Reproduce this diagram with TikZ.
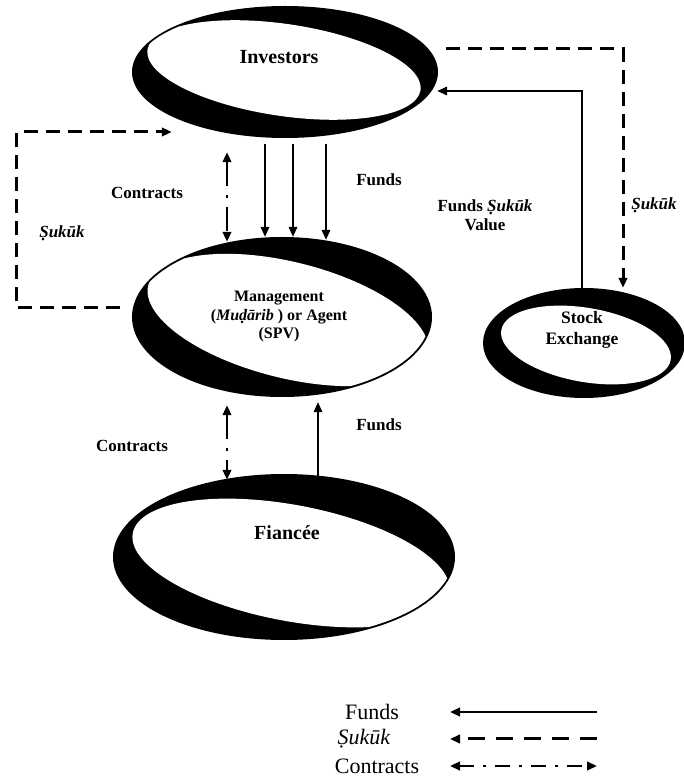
\documentclass[tikz,border=0pt]{standalone}
\usepackage{fontspec}
\setmainfont{Liberation Serif}
\usetikzlibrary{shapes.geometric,arrows.meta}

\tikzset{
  oval/.style={ellipse, inner sep=0pt, draw=none},
  lbl/.style={font=\bfseries\fontsize{17}{20}\selectfont, inner sep=0pt, align=center},
  bigname/.style={font=\bfseries\fontsize{20}{23}\selectfont, inner sep=0pt, align=center},
  legtext/.style={font=\fontsize{22}{24}\selectfont, inner sep=0pt},
  head/.tip={Triangle[length=10pt,width=8.5pt]},
  tip/.style={-head},
  fund/.style={tip, line width=2pt},
  sukuk/.style={tip, line width=3pt, dash pattern=on 14pt off 8pt},
  contract/.style={head-head, line width=2.4pt,
                   dash pattern=on 24pt off 9pt on 3pt off 9pt},
  legsukuk/.style={tip, line width=3pt, dash pattern=on 17pt off 11pt},
  legcontract/.style={head-head, line width=2.6pt,
                   dash pattern=on 15pt off 9pt on 3pt off 9pt},
}

\begin{document}
\begin{tikzpicture}[x=1pt,y=1pt]
\useasboundingbox (0,0) rectangle (684,780);

% ---- ellipse outlines (used as connector anchors) ----
\node[oval, minimum width=306pt, minimum height=132pt] (inv)  at (285,708) {};
\node[oval, minimum width=300pt, minimum height=160pt] (mgmt) at (282,463) {};
\node[oval, minimum width=202pt, minimum height=110pt] (se)   at (584,437) {};
\node[oval, minimum width=342pt, minimum height=166pt] (fia)  at (284,223) {};

% ---- black rims with a tilted white face ----
\fill[black] (inv.center) ellipse [x radius=153, y radius=66];
\begin{scope}
  \clip (inv.center) ellipse [x radius=151, y radius=64];
  \fill[white, rotate around={-8.4:(284,710)}] (284,710) ellipse [x radius=138, y radius=46];
\end{scope}

\fill[black] (mgmt.center) ellipse [x radius=150, y radius=80];
\begin{scope}
  \clip (mgmt.center) ellipse [x radius=148, y radius=78];
  \fill[white, rotate around={-14:(288,460)}] (288,460) ellipse [x radius=144, y radius=58];
\end{scope}

\fill[black] (se.center) ellipse [x radius=101, y radius=55];
\begin{scope}
  \clip (se.center) ellipse [x radius=99, y radius=53];
  \fill[white, rotate around={-10:(586,435)}] (586,435) ellipse [x radius=86, y radius=37];
\end{scope}

\fill[black] (fia.center) ellipse [x radius=171, y radius=83];
\begin{scope}
  \clip (fia.center) ellipse [x radius=169, y radius=81];
  \fill[white, rotate around={-10.7:(291,217)}] (291,217) ellipse [x radius=161, y radius=58];
\end{scope}

% ---- ellipse texts ----
\node[bigname] (tinv) at (279,723) {Investors};
\node[font=\bfseries\fontsize{16}{18.5}\selectfont, inner sep=0pt, align=center] (tmgmt) at (279,463.5)
  {Management\\(\textit{Mu\d{d}\=arib} ) or Agent\\(SPV)};
\node[font=\bfseries\fontsize{17.5}{21}\selectfont, inner sep=0pt, align=center] (tse) at (582,450.5)
  {Stock\\Exchange};
\node[bigname] (tfia) at (287,247) {Fianc\'ee};

% ---- connector labels ----
\node[lbl] (lcon1) at (147,587) {Contracts};
\node[lbl] (lsuk1) at (62,547) {\textit{\d{S}uk\=uk}};
\node[lbl] (lfun1) at (379,600) {Funds};
\node[lbl, font=\bfseries\fontsize{17}{19}\selectfont] (lfsv) at (485,564.5) {Funds \textit{\d{S}uk\=uk}\\Value};
\node[lbl] (lsuk2) at (654,575) {\textit{\d{S}uk\=uk}};
\node[lbl] (lcon2) at (132,334) {Contracts};
\node[lbl] (lfun2) at (379,355) {Funds};

% ---- connectors ----
% contracts between investors and management
\draw[contract] ([shift={(-58,-14)}]inv.south) -- ([shift={(-55,-5)}]mgmt.north);
% funds from investors to management
\draw[fund] ([shift={(-20,-6)}]inv.south) -- ([shift={(-17,0)}]mgmt.north);
\draw[fund] ([shift={(8,-6)}]inv.south)   -- ([shift={(11,0)}]mgmt.north);
\draw[fund] ([shift={(41,-6)}]inv.south)  -- ([shift={(44,-3)}]mgmt.north);
% sukuk from management back to investors
\draw[sukuk] ([shift={(-12,9)}]mgmt.west) -- ++(-103,0) |- ([shift={(40,-60)}]inv.west);
% sukuk from investors to the stock exchange
\draw[sukuk] ([shift={(8,23)}]inv.east) -| ([shift={(39,0)}]se.north);
% funds / sukuk value from the stock exchange
\draw[fund] ([xshift=-2pt]se.north) |- ([shift={(-1,-19)}]inv.east);
% contracts between management and fiancee
\draw[contract] ([shift={(-55,-8)}]mgmt.south) -- ([shift={(-57,-6)}]fia.north);
% funds from fiancee to management
\draw[fund] ([shift={(34,-4)}]fia.north) -- ([shift={(36,-5)}]mgmt.south);

% ---- legend ----
\node[legtext] (kfun) at (372,68) {Funds};
\node[legtext] (ksuk) at (364,41) {\textit{\d{S}uk\=uk}};
\node[legtext] (kcon) at (377,14) {Contracts};
\coordinate (kfunR) at (597,68);  \coordinate (kfunL) at (450,68);
\coordinate (ksukR) at (597,41);  \coordinate (ksukL) at (450,41);
\coordinate (kconR) at (597,14);  \coordinate (kconL) at (450,14);
\draw[fund, line width=2.6pt] (kfunR) -- (kfunL);
\draw[legsukuk] (ksukR) -- (ksukL);
\draw[legcontract] (kconL) -- (kconR);
\end{tikzpicture}
\end{document}
